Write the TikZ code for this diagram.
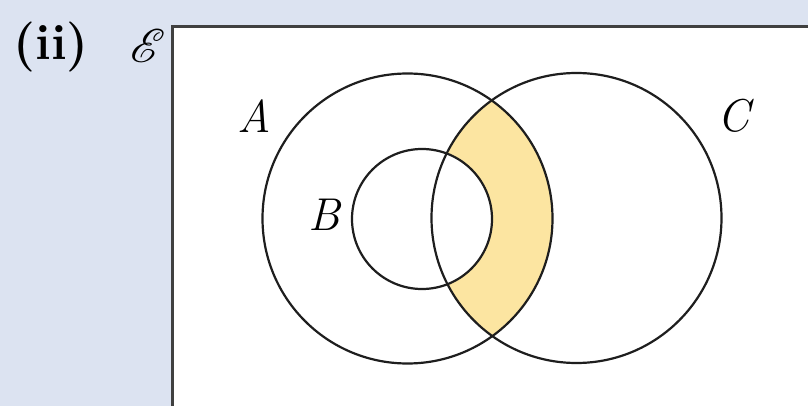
\documentclass[tikz,border=0pt]{standalone}
\usepackage{mathrsfs}
\usepackage{graphicx}
\usepackage{tikz}
\usetikzlibrary{positioning}

\definecolor{pagebg}{HTML}{DCE3F1}
\definecolor{vennfill}{HTML}{FCE5A1}
\definecolor{ink}{HTML}{1E1E1E}

\tikzset{
    setline/.style={draw=ink, line width=2.2pt},
    setlabel/.style={font=\fontsize{46}{50}\selectfont\itshape, inner sep=0pt}
}

\begin{document}
\begin{tikzpicture}[x=1pt,y=-1pt]
    \useasboundingbox (0,0) rectangle (808,406);
    \fill[pagebg] (0,0) rectangle (808,406);
    \clip (0,0) rectangle (808,406);

    % universal set
    \draw[fill=white, draw=ink!85, line width=3pt] (172,27) rectangle (840,440);
    \node[inner sep=0pt, font=\fontsize{50}{54}\selectfont\bfseries] (part) at (51,47) {(ii)};
    \node[inner sep=0pt] (univ) at (148,46) {\scalebox{1.9}{\Huge$\mathscr{E}$}};

    % (A n C) minus B
    \begin{scope}
        \clip (407.5,218.5) circle (145);
        \clip (576.5,218) circle (145);
        \fill[vennfill, even odd rule] (172,27) rectangle (808,406) (422,219) circle (70);
    \end{scope}

    \draw[setline] (407.5,218.5) circle (145);
    \draw[setline] (576.5,218) circle (145);
    \draw[setline] (422,219) circle (70);

    \node[setlabel] (A) at (254,116) {A};
    \node[setlabel] (B) at (324,215) {B};
    \node[setlabel] (C) at (734,116) {C};
\end{tikzpicture}
\end{document}
